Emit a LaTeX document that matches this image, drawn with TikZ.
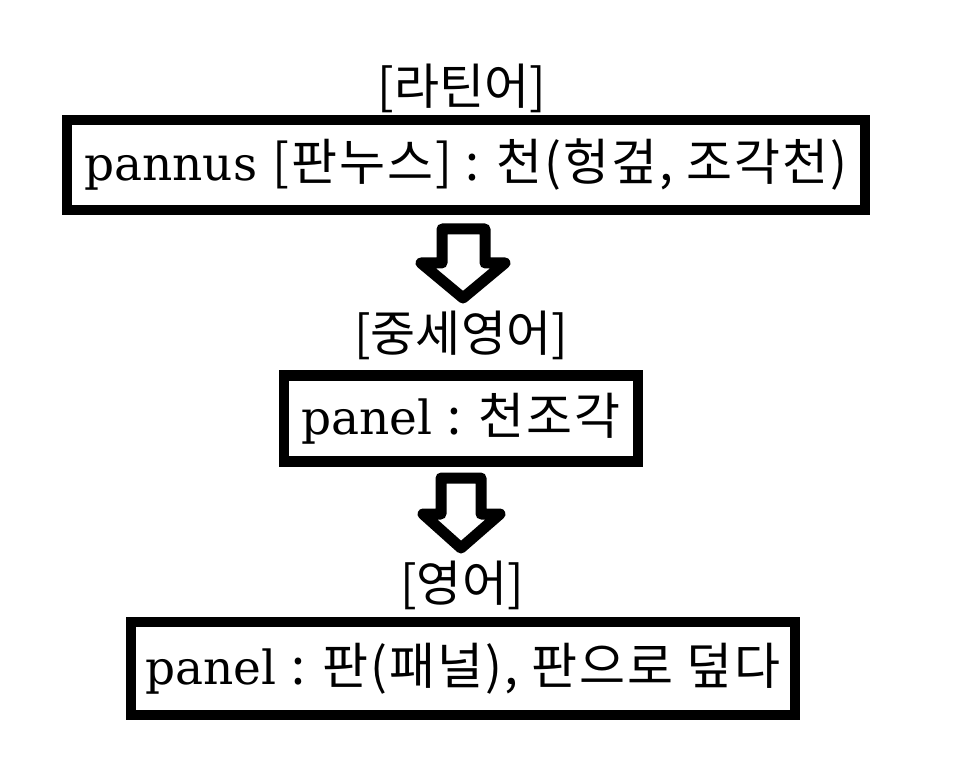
\documentclass[tikz,border=0pt]{standalone}
\usepackage{fontspec}
\setmainfont{DejaVu Serif}
\newfontfamily\kr[LetterSpace=4]{Noto Sans CJK KR}
\newfontfamily\krl{Noto Sans CJK KR}
\newcommand{\ko}[1]{{\fontsize{50}{56}\selectfont\kr #1}}
\begin{document}
\begin{tikzpicture}[x=1pt,y=-1pt,
  lbl/.style={font=\fontsize{49}{55}\selectfont\krl, inner sep=0pt},
  box/.style={draw=black, line width=10.5pt, inner sep=0pt, fill=white,
    font=\fontsize{47}{53}\selectfont},
  blockarrow/.style={draw=black, fill=white, line width=11pt, line join=round}]
\useasboundingbox (0,0) rectangle (972,759);
\fill[white] (0,0) rectangle (972,759);
% labels
\node[lbl] (l1) at (462,88) {[라틴어]};
\node[lbl] (l2) at (461,335) {[중세영어]};
\node[lbl] (l3) at (462,585) {[영어]};
% boxes
\node[box, minimum width=798pt, minimum height=90pt] (b1) at (466,165)
  {pannus \ko{[판누스] : 천(헝겊, 조각천)}};
\node[box, minimum width=354pt, minimum height=86pt] (b2) at (461,418.5)
  {panel \ko{: 천조각}};
\node[box, minimum width=664pt, minimum height=93pt] (b3) at (463,668.5)
  {panel \ko{: 판(패널), 판으로 덮다}};
% block arrows
\draw[blockarrow] (442,229) -- (485,229) -- (485,263) -- (505,263) -- (463,298)
  -- (421,263) -- (442,263) -- cycle;
\draw[blockarrow] (441,478) -- (481,478) -- (481,514) -- (500,514) -- (461,548)
  -- (423,514) -- (441,514) -- cycle;
\end{tikzpicture}
\end{document}
